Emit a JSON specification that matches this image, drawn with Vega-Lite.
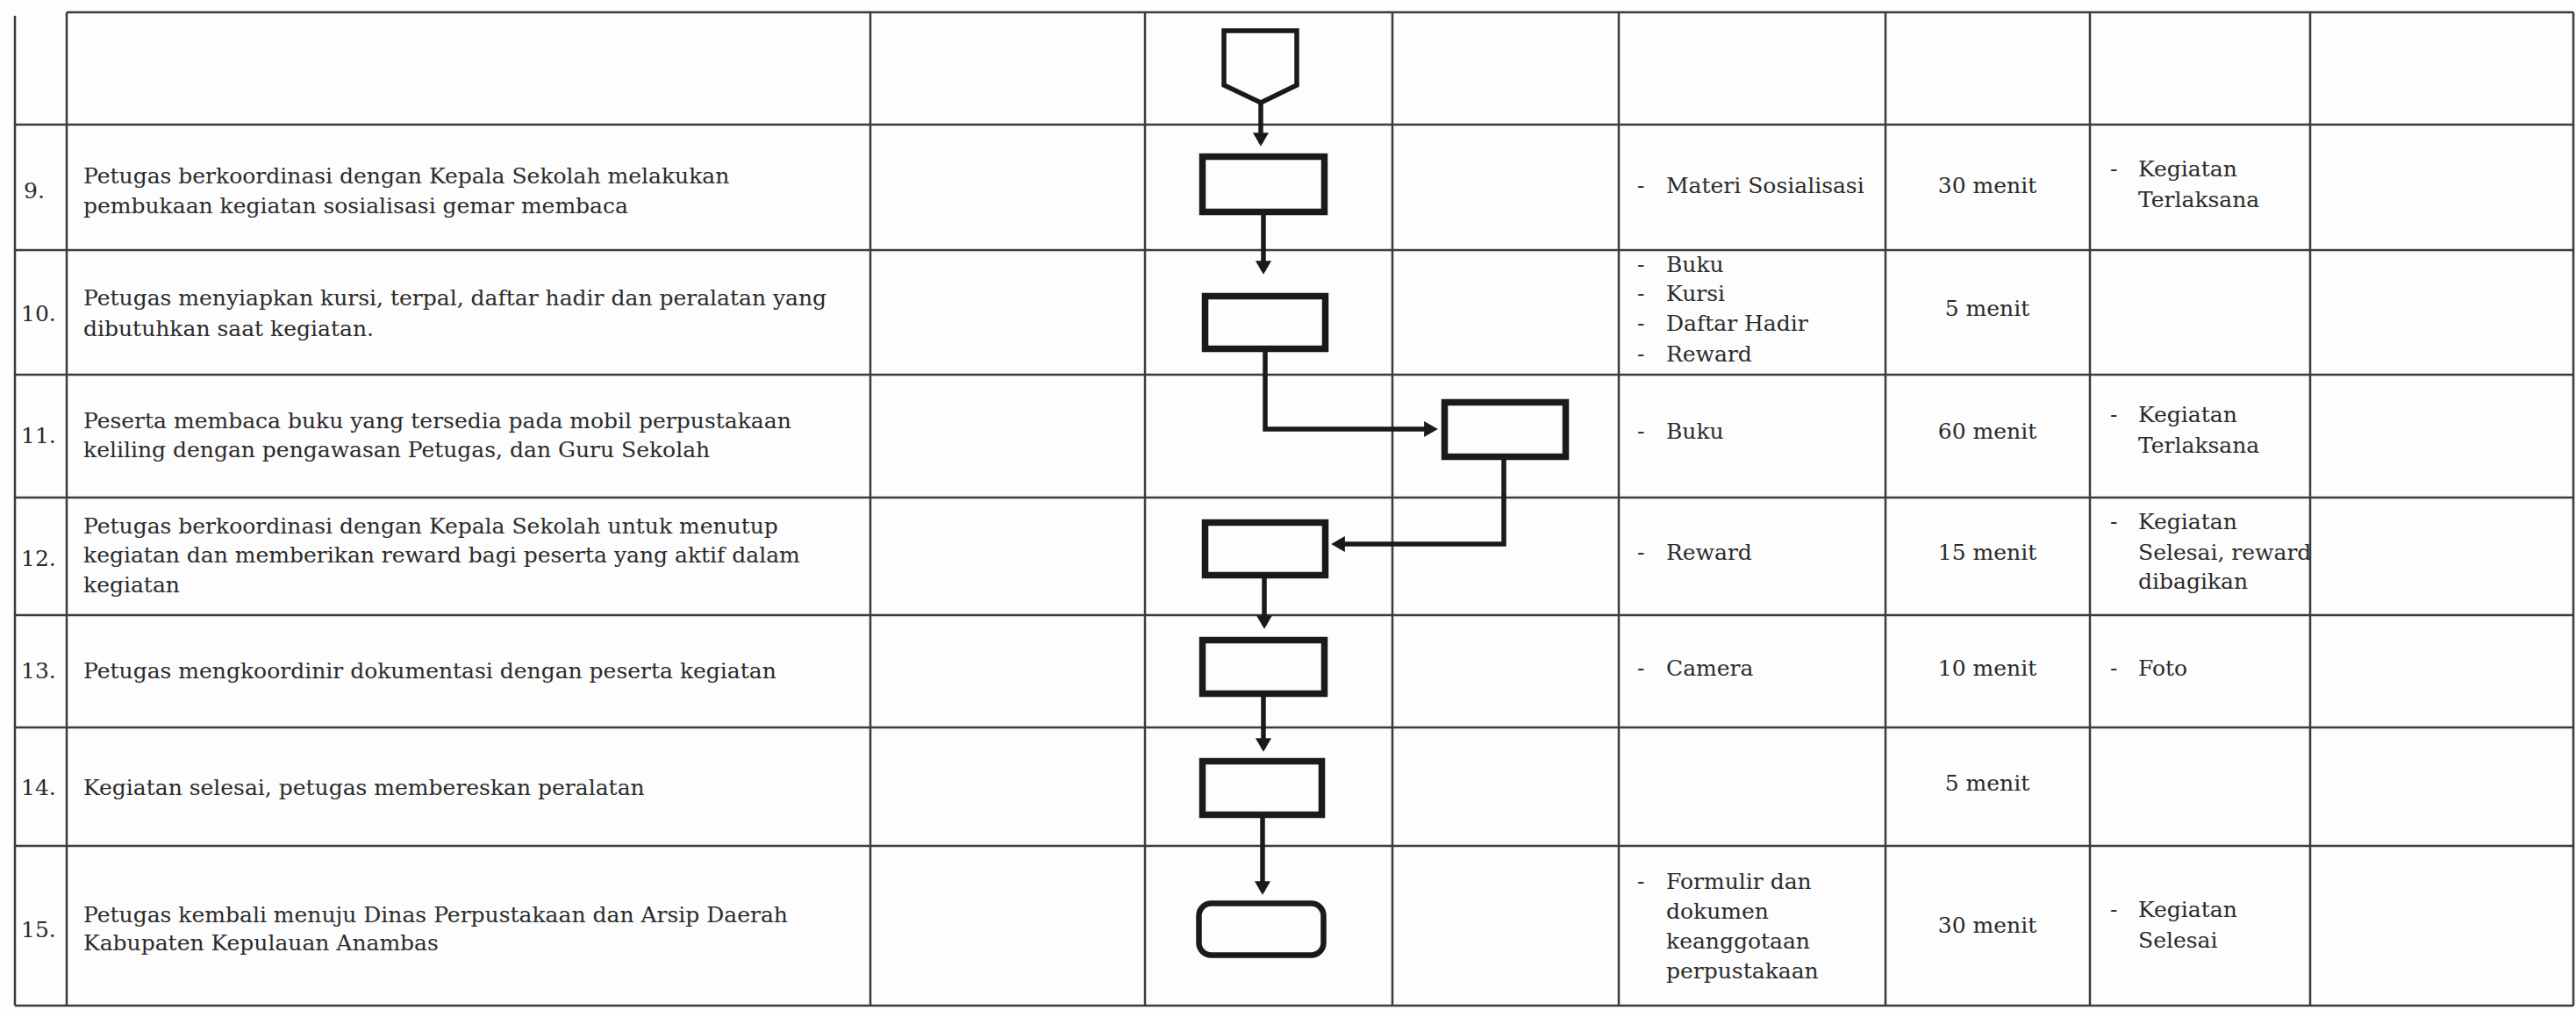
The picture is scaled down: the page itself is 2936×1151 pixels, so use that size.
{
  "$schema": "https://vega.github.io/schema/vega-lite/v6.json",
  "width": 2936,
  "height": 1151,
  "padding": 0,
  "autosize": {"type": "none"},
  "background": "#fdfdfd",
  "config": {"view": {"stroke": null}},
  "datasets": {
    "hlines": [
      {"y": 14, "x1": 76, "x2": 2933},
      {"y": 142, "x1": 17, "x2": 2933},
      {"y": 285, "x1": 17, "x2": 2933},
      {"y": 427, "x1": 17, "x2": 2933},
      {"y": 567, "x1": 17, "x2": 2933},
      {"y": 701, "x1": 17, "x2": 2933},
      {"y": 829, "x1": 17, "x2": 2933},
      {"y": 964, "x1": 17, "x2": 2933},
      {"y": 1146, "x1": 17, "x2": 2933}
    ],
    "vlines": [
      {"x": 17, "y1": 18, "y2": 1146},
      {"x": 76, "y1": 14, "y2": 1146},
      {"x": 992, "y1": 14, "y2": 1146},
      {"x": 1305, "y1": 14, "y2": 1146},
      {"x": 1587, "y1": 14, "y2": 1146},
      {"x": 1845, "y1": 14, "y2": 1146},
      {"x": 2149, "y1": 14, "y2": 1146},
      {"x": 2382, "y1": 14, "y2": 1146},
      {"x": 2633, "y1": 14, "y2": 1146},
      {"x": 2933, "y1": 14, "y2": 1146}
    ],
    "boxes": [
      {"step": 9, "kind": "process", "x1": 1370.5, "x2": 1509.5, "y1": 178.5, "y2": 241.5},
      {"step": 10, "kind": "process", "x1": 1373.5, "x2": 1510.5, "y1": 337.5, "y2": 397.5},
      {"step": 11, "kind": "process", "x1": 1646.5, "x2": 1784.5, "y1": 458.5, "y2": 520.5},
      {"step": 12, "kind": "process", "x1": 1373.5, "x2": 1510.5, "y1": 595.5, "y2": 655.5},
      {"step": 13, "kind": "process", "x1": 1370.5, "x2": 1509.5, "y1": 729.5, "y2": 790.5},
      {"step": 14, "kind": "process", "x1": 1370.5, "x2": 1506.5, "y1": 867.5, "y2": 928.5},
      {"step": 15, "kind": "terminal", "x1": 1366.5, "x2": 1508.5, "y1": 1029.5, "y2": 1088.5}
    ],
    "paths": [
      {"id": "connector", "seq": 1, "x": 1395, "y": 35},
      {"id": "connector", "seq": 2, "x": 1478, "y": 35},
      {"id": "connector", "seq": 3, "x": 1478, "y": 97},
      {"id": "connector", "seq": 4, "x": 1437, "y": 117},
      {"id": "connector", "seq": 5, "x": 1395, "y": 97},
      {"id": "connector", "seq": 6, "x": 1395, "y": 35},
      {"id": "c1", "seq": 1, "x": 1437, "y": 117},
      {"id": "c1", "seq": 2, "x": 1437, "y": 160},
      {"id": "c2", "seq": 1, "x": 1440, "y": 245},
      {"id": "c2", "seq": 2, "x": 1440, "y": 306},
      {"id": "c3", "seq": 1, "x": 1442, "y": 401},
      {"id": "c3", "seq": 2, "x": 1442, "y": 489},
      {"id": "c3", "seq": 3, "x": 1630, "y": 489},
      {"id": "c4", "seq": 1, "x": 1714, "y": 524},
      {"id": "c4", "seq": 2, "x": 1714, "y": 620},
      {"id": "c4", "seq": 3, "x": 1526, "y": 620},
      {"id": "c5", "seq": 1, "x": 1441, "y": 659},
      {"id": "c5", "seq": 2, "x": 1441, "y": 710},
      {"id": "c6", "seq": 1, "x": 1440, "y": 794},
      {"id": "c6", "seq": 2, "x": 1440, "y": 850},
      {"id": "c7", "seq": 1, "x": 1439, "y": 932},
      {"id": "c7", "seq": 2, "x": 1439, "y": 1013}
    ],
    "heads": [
      {"id": "c1", "dir": "down", "x": 1437, "y": 159},
      {"id": "c2", "dir": "down", "x": 1440, "y": 305},
      {"id": "c3", "dir": "right", "x": 1631, "y": 489},
      {"id": "c4", "dir": "left", "x": 1525, "y": 620},
      {"id": "c5", "dir": "down", "x": 1441, "y": 709},
      {"id": "c6", "dir": "down", "x": 1440, "y": 849},
      {"id": "c7", "dir": "down", "x": 1439, "y": 1012}
    ],
    "leftText": [
      {"col": "no", "x": 27, "y": 218, "text": "9."},
      {"col": "no", "x": 24, "y": 358, "text": "10."},
      {"col": "no", "x": 24, "y": 497, "text": "11."},
      {"col": "no", "x": 24, "y": 637, "text": "12."},
      {"col": "no", "x": 24, "y": 765, "text": "13."},
      {"col": "no", "x": 24, "y": 898, "text": "14."},
      {"col": "no", "x": 24, "y": 1060, "text": "15."},
      {"col": "kegiatan", "x": 95, "y": 201, "text": "Petugas berkoordinasi dengan Kepala Sekolah melakukan"},
      {"col": "kegiatan", "x": 95, "y": 235, "text": "pembukaan kegiatan sosialisasi gemar membaca"},
      {"col": "kegiatan", "x": 95, "y": 340, "text": "Petugas menyiapkan kursi, terpal, daftar hadir dan peralatan yang"},
      {"col": "kegiatan", "x": 95, "y": 375, "text": "dibutuhkan saat kegiatan."},
      {"col": "kegiatan", "x": 95, "y": 480, "text": "Peserta membaca buku yang tersedia pada mobil perpustakaan"},
      {"col": "kegiatan", "x": 95, "y": 513, "text": "keliling dengan pengawasan Petugas, dan Guru Sekolah"},
      {"col": "kegiatan", "x": 95, "y": 600, "text": "Petugas berkoordinasi dengan Kepala Sekolah untuk menutup"},
      {"col": "kegiatan", "x": 95, "y": 633, "text": "kegiatan dan memberikan reward bagi peserta yang aktif dalam"},
      {"col": "kegiatan", "x": 95, "y": 667, "text": "kegiatan"},
      {"col": "kegiatan", "x": 95, "y": 765, "text": "Petugas mengkoordinir dokumentasi dengan peserta kegiatan"},
      {"col": "kegiatan", "x": 95, "y": 898, "text": "Kegiatan selesai, petugas membereskan peralatan"},
      {"col": "kegiatan", "x": 95, "y": 1043, "text": "Petugas kembali menuju Dinas Perpustakaan dan Arsip Daerah"},
      {"col": "kegiatan", "x": 95, "y": 1075, "text": "Kabupaten Kepulauan Anambas"},
      {"col": "kelengkapan", "x": 1866, "y": 212, "text": "-"},
      {"col": "kelengkapan", "x": 1899, "y": 212, "text": "Materi Sosialisasi"},
      {"col": "kelengkapan", "x": 1866, "y": 302, "text": "-"},
      {"col": "kelengkapan", "x": 1899, "y": 302, "text": "Buku"},
      {"col": "kelengkapan", "x": 1866, "y": 335, "text": "-"},
      {"col": "kelengkapan", "x": 1899, "y": 335, "text": "Kursi"},
      {"col": "kelengkapan", "x": 1866, "y": 369, "text": "-"},
      {"col": "kelengkapan", "x": 1899, "y": 369, "text": "Daftar Hadir"},
      {"col": "kelengkapan", "x": 1866, "y": 404, "text": "-"},
      {"col": "kelengkapan", "x": 1899, "y": 404, "text": "Reward"},
      {"col": "kelengkapan", "x": 1866, "y": 492, "text": "-"},
      {"col": "kelengkapan", "x": 1899, "y": 492, "text": "Buku"},
      {"col": "kelengkapan", "x": 1866, "y": 630, "text": "-"},
      {"col": "kelengkapan", "x": 1899, "y": 630, "text": "Reward"},
      {"col": "kelengkapan", "x": 1866, "y": 762, "text": "-"},
      {"col": "kelengkapan", "x": 1899, "y": 762, "text": "Camera"},
      {"col": "kelengkapan", "x": 1866, "y": 1005, "text": "-"},
      {"col": "kelengkapan", "x": 1899, "y": 1005, "text": "Formulir dan"},
      {"col": "kelengkapan", "x": 1899, "y": 1039, "text": "dokumen"},
      {"col": "kelengkapan", "x": 1899, "y": 1073, "text": "keanggotaan"},
      {"col": "kelengkapan", "x": 1899, "y": 1107, "text": "perpustakaan"},
      {"col": "output", "x": 2405, "y": 193, "text": "-"},
      {"col": "output", "x": 2437, "y": 193, "text": "Kegiatan"},
      {"col": "output", "x": 2437, "y": 228, "text": "Terlaksana"},
      {"col": "output", "x": 2405, "y": 473, "text": "-"},
      {"col": "output", "x": 2437, "y": 473, "text": "Kegiatan"},
      {"col": "output", "x": 2437, "y": 508, "text": "Terlaksana"},
      {"col": "output", "x": 2405, "y": 595, "text": "-"},
      {"col": "output", "x": 2437, "y": 595, "text": "Kegiatan"},
      {"col": "output", "x": 2437, "y": 630, "text": "Selesai, reward"},
      {"col": "output", "x": 2437, "y": 663, "text": "dibagikan"},
      {"col": "output", "x": 2405, "y": 762, "text": "-"},
      {"col": "output", "x": 2437, "y": 762, "text": "Foto"},
      {"col": "output", "x": 2405, "y": 1037, "text": "-"},
      {"col": "output", "x": 2437, "y": 1037, "text": "Kegiatan"},
      {"col": "output", "x": 2437, "y": 1072, "text": "Selesai"}
    ],
    "waktu": [
      {"step": 9, "x": 2265, "y": 212, "text": "30 menit"},
      {"step": 10, "x": 2265, "y": 352, "text": "5 menit"},
      {"step": 11, "x": 2265, "y": 492, "text": "60 menit"},
      {"step": 12, "x": 2265, "y": 630, "text": "15 menit"},
      {"step": 13, "x": 2265, "y": 762, "text": "10 menit"},
      {"step": 14, "x": 2265, "y": 893, "text": "5 menit"},
      {"step": 15, "x": 2265, "y": 1055, "text": "30 menit"}
    ]
  },
  "layer": [
    {
      "data": {"name": "hlines"},
      "mark": {"type": "rule", "color": "#3c3c3c", "strokeWidth": 2.5},
      "encoding": {
        "x": {"field": "x1", "type": "quantitative", "scale": {"domain": [0, 2936], "nice": false, "zero": false}, "axis": null},
        "x2": {"field": "x2"},
        "y": {"field": "y", "type": "quantitative", "scale": {"domain": [0, 1151], "nice": false, "zero": false, "reverse": true}, "axis": null}
      }
    },
    {
      "data": {"name": "vlines"},
      "mark": {"type": "rule", "color": "#3c3c3c", "strokeWidth": 2.5},
      "encoding": {
        "x": {"field": "x", "type": "quantitative", "axis": null},
        "y": {"field": "y1", "type": "quantitative", "axis": null},
        "y2": {"field": "y2"}
      }
    },
    {
      "data": {"name": "boxes"},
      "transform": [{"filter": "datum.kind === 'process'"}],
      "mark": {"type": "rect", "fill": "#fdfdfd", "stroke": "#1a1a1a", "strokeWidth": 7.5},
      "encoding": {
        "x": {"field": "x1", "type": "quantitative", "axis": null},
        "x2": {"field": "x2"},
        "y": {"field": "y1", "type": "quantitative", "axis": null},
        "y2": {"field": "y2"}
      }
    },
    {
      "data": {"name": "boxes"},
      "transform": [{"filter": "datum.kind === 'terminal'"}],
      "mark": {"type": "rect", "fill": "#fdfdfd", "stroke": "#1a1a1a", "strokeWidth": 6.5, "cornerRadius": 14},
      "encoding": {
        "x": {"field": "x1", "type": "quantitative", "axis": null},
        "x2": {"field": "x2"},
        "y": {"field": "y1", "type": "quantitative", "axis": null},
        "y2": {"field": "y2"}
      }
    },
    {
      "data": {"name": "paths"},
      "mark": {"type": "line", "color": "#1a1a1a", "strokeWidth": 5.5, "strokeCap": "square", "strokeJoin": "miter"},
      "encoding": {
        "x": {"field": "x", "type": "quantitative", "axis": null},
        "y": {"field": "y", "type": "quantitative", "axis": null},
        "detail": {"field": "id"},
        "order": {"field": "seq", "type": "quantitative"}
      }
    },
    {
      "data": {"name": "heads"},
      "mark": {"type": "point", "filled": true, "color": "#1a1a1a", "opacity": 1, "size": 330},
      "encoding": {
        "x": {"field": "x", "type": "quantitative", "axis": null},
        "y": {"field": "y", "type": "quantitative", "axis": null},
        "shape": {"field": "dir", "type": "nominal", "scale": {"domain": ["down", "right", "left"], "range": ["triangle-down", "triangle-right", "triangle-left"]}, "legend": null}
      }
    },
    {
      "data": {"name": "leftText"},
      "mark": {"type": "text", "align": "left", "baseline": "middle", "font": "DejaVu Serif", "fontSize": 25, "color": "#2b2b2b"},
      "encoding": {
        "x": {"field": "x", "type": "quantitative", "axis": null},
        "y": {"field": "y", "type": "quantitative", "axis": null},
        "text": {"field": "text"}
      }
    },
    {
      "data": {"name": "waktu"},
      "mark": {"type": "text", "align": "center", "baseline": "middle", "font": "DejaVu Serif", "fontSize": 25, "color": "#2b2b2b"},
      "encoding": {
        "x": {"field": "x", "type": "quantitative", "axis": null},
        "y": {"field": "y", "type": "quantitative", "axis": null},
        "text": {"field": "text"}
      }
    }
  ]
}
